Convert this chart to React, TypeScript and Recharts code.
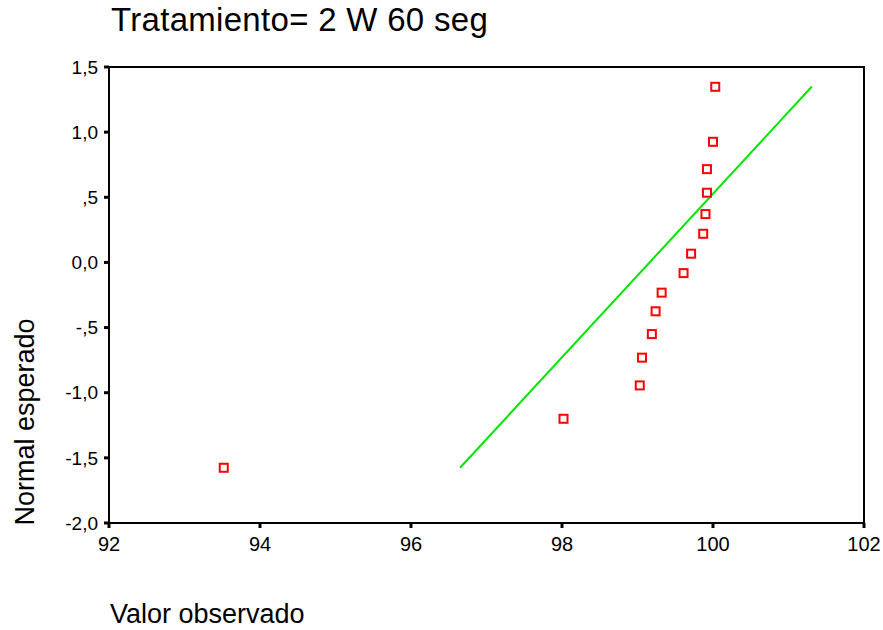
import React from 'react';
import {
  ScatterChart, Scatter, XAxis, YAxis, ReferenceArea, Label,
} from 'recharts';

// Valor observado / Normal esperado
const observed = [93.52, 98.02, 99.03, 99.06, 99.19, 99.24, 99.32, 99.61, 99.71, 99.87, 99.9, 99.92, 99.92, 100.0, 100.03];
const expected = [-1.576, -1.2, -0.944, -0.731, -0.55, -0.375, -0.232, -0.082, 0.067, 0.22, 0.371, 0.535, 0.716, 0.926, 1.348];

// theoretical normal line end points
const lineX = [96.65, 101.31];
const lineY = [-1.576, 1.35];

const xTicks = [92, 94, 96, 98, 100, 102];
const yTicks = [1.5, 1.0, 0.5, 0.0, -0.5, -1.0, -1.5, -2.0];
const yTickLabels = ['1,5', '1,0', ',5', '0,0', '-,5', '-1,0', '-1,5', '-2,0'];

const points = observed.map((x, i) => ({ x, y: expected[i] }));
const linePts = lineX.map((x, i) => ({ x, y: lineY[i] }));

const font = 'Arial, "Liberation Sans", sans-serif';

const SquareMark = (props: any) => {
  const { cx, cy } = props;
  if (cx == null || cy == null) return null;
  return <rect x={cx - 4} y={cy - 4} width={8} height={8} fill="#fff" stroke="#ff0000" strokeWidth={2} />;
};

const yFmt = (v: number) => {
  const i = yTicks.findIndex((t) => Math.abs(t - v) < 1e-6);
  return i >= 0 ? yTickLabels[i] : String(v);
};

export default function App() {
  return (
    <div style={{ position: 'absolute', left: 0, top: 0, width: 883, height: 630, background: '#fff', fontFamily: font }}>
      <div style={{ position: 'absolute', left: 111, top: 1, fontSize: 33, letterSpacing: 0.3, color: '#000', whiteSpace: 'nowrap' }}>
        Tratamiento= 2 W 60 seg
      </div>
      <ScatterChart width={883} height={630} margin={{ top: 67, right: 19, bottom: 77, left: 0 }}>
        <ReferenceArea x1={92} x2={102} y1={-2} y2={1.5} fill="none" stroke="#000" strokeWidth={2} ifOverflow="visible" />
        <XAxis
          type="number"
          dataKey="x"
          domain={[92, 102]}
          ticks={xTicks}
          height={30}
          axisLine={{ stroke: '#000', strokeWidth: 2 }}
          tickLine={{ stroke: '#000', strokeWidth: 3 }}
          tickSize={5}
          tickMargin={9}
          tick={{ fill: '#000', fontSize: 20, fontFamily: font }}
          allowDataOverflow
        >
          <Label
            content={() => (
              <text x={110} y={623} fontSize={27} fontFamily={font} fill="#000">Valor observado</text>
            )}
          />
        </XAxis>
        <YAxis
          type="number"
          dataKey="y"
          domain={[-2, 1.5]}
          ticks={yTicks}
          width={109}
          tickFormatter={yFmt}
          axisLine={{ stroke: '#000', strokeWidth: 2 }}
          tickLine={{ stroke: '#000', strokeWidth: 3 }}
          tickSize={5}
          tickMargin={6}
          tick={{ fill: '#000', fontSize: 19, fontFamily: font }}
          allowDataOverflow
        >
          <Label
            content={() => (
              <text x={34} y={422} fontSize={27} fontFamily={font} fill="#000" textAnchor="middle" transform="rotate(-90 34 422)">Normal esperado</text>
            )}
          />
        </YAxis>
        <Scatter data={linePts} line={{ stroke: '#00e600', strokeWidth: 2 }} shape={() => null} isAnimationActive={false} />
        <Scatter data={points} shape={SquareMark} isAnimationActive={false} />
      </ScatterChart>
    </div>
  );
}
